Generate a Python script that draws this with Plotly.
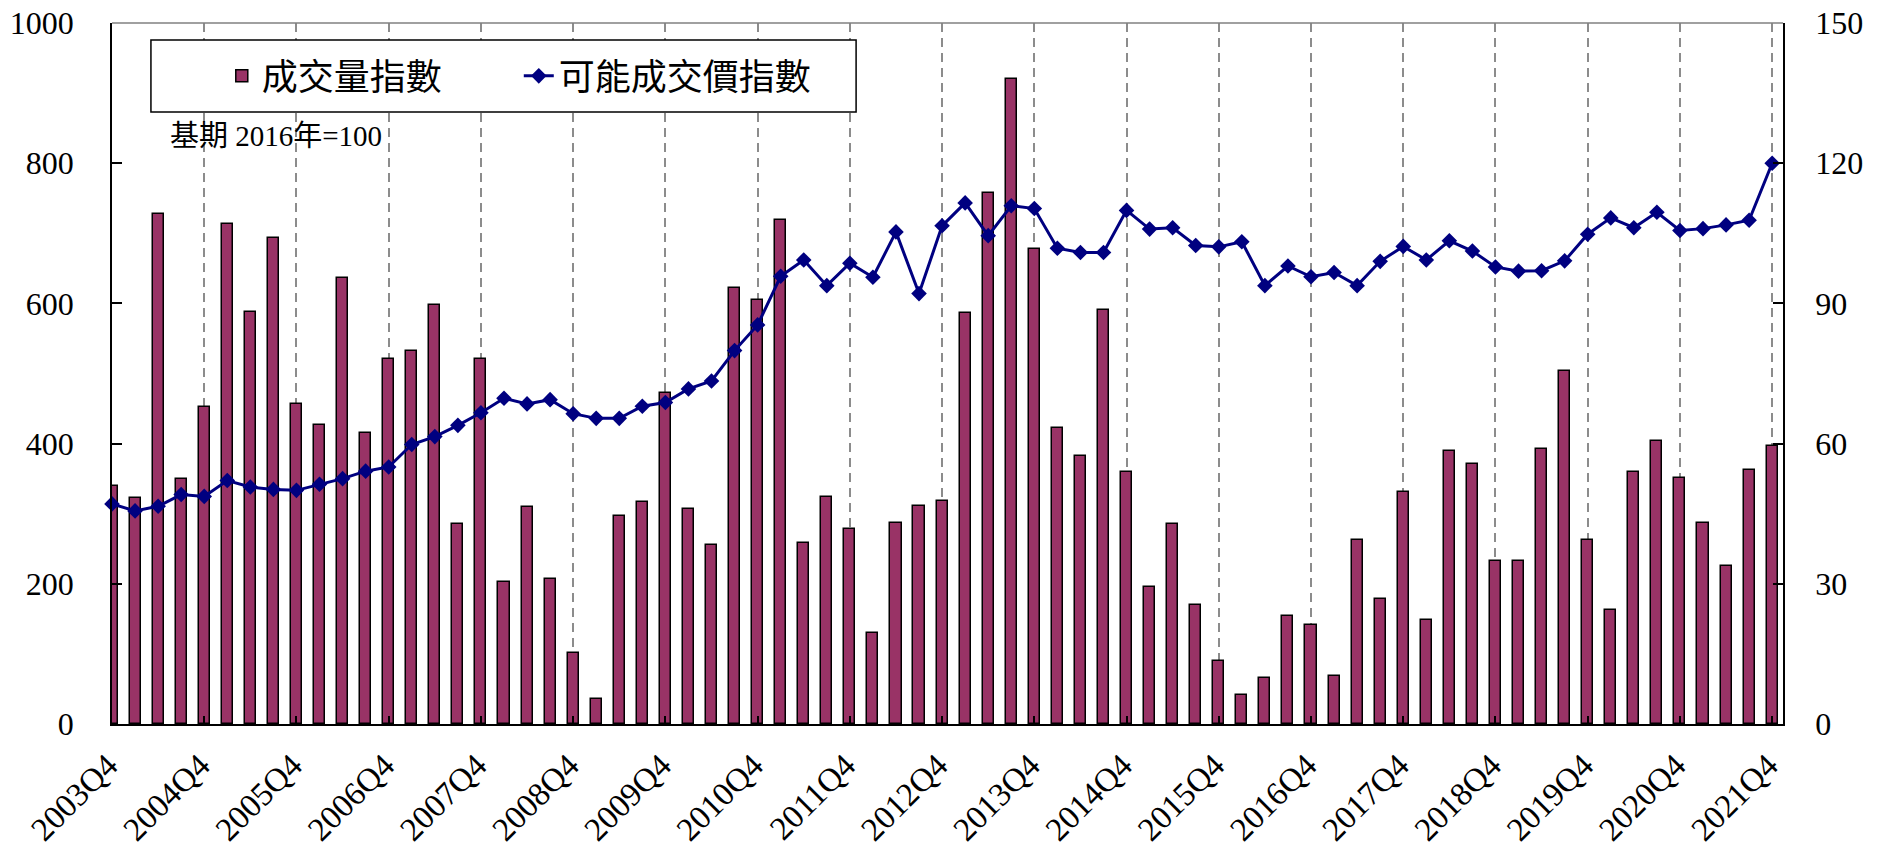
import plotly.graph_objects as go

tick_labels = ["2003Q4", "2004Q4", "2005Q4", "2006Q4", "2007Q4", "2008Q4", "2009Q4",
               "2010Q4", "2011Q4", "2012Q4", "2013Q4", "2014Q4", "2015Q4", "2016Q4",
               "2017Q4", "2018Q4", "2019Q4", "2020Q4", "2021Q4"]

volume_index = [340, 323, 727, 349, 452, 713, 588, 693, 457, 426,
                636, 415, 521, 532, 598, 286, 520, 203, 309, 207,
                101, 36, 297, 317, 472, 306, 256, 622, 605, 719,
                258, 324, 278, 130, 287, 311, 318, 587, 757, 920,
                678, 422, 382, 591, 360, 196, 286, 170, 90, 42,
                65, 154, 141, 68, 262, 178, 331, 149, 390, 371,
                232, 232, 392, 503, 263, 163, 360, 404, 351, 287,
                225, 362, 397]

price_index = [47.1, 45.6, 46.6, 49.1, 48.7, 52.1, 50.7, 50.2, 50.0, 51.3,
               52.5, 54.1, 55.0, 59.8, 61.5, 63.9, 66.6, 69.7, 68.5, 69.4,
               66.4, 65.4, 65.4, 68.0, 68.8, 71.7, 73.4, 79.9, 85.4, 95.8,
               99.3, 93.8, 98.6, 95.6, 105.3, 92.1, 106.6, 111.5, 104.5, 110.9,
               110.3, 101.8, 100.9, 100.9, 109.9, 105.9, 106.2, 102.4, 102.1, 103.2,
               93.8, 98.0, 95.7, 96.6, 93.8, 99.0, 102.2, 99.3, 103.4, 101.2,
               97.8, 96.9, 97.0, 99.1, 104.8, 108.3, 106.2, 109.5, 105.6, 106.0,
               106.8, 107.8, 120.0]

x = list(range(len(volume_index)))
tick_pos = list(range(0, len(volume_index), 4))

FONT = "'Liberation Serif', 'Noto Sans CJK TC', serif"

fig = go.Figure()
fig.add_trace(go.Bar(
    x=x, y=volume_index, name="成交量指數",
    marker=dict(color="#993366", line=dict(color="black", width=1.5)),
    width=0.48, yaxis="y",
))
fig.add_trace(go.Scatter(
    x=x, y=price_index, name="可能成交價指數", yaxis="y2",
    mode="lines+markers",
    line=dict(color="#000080", width=3),
    marker=dict(symbol="diamond", size=12, color="#000080"),
    cliponaxis=False,
))

fig.update_layout(
    width=1881, height=849,
    margin=dict(l=112, r=98, t=23, b=125, autoexpand=False),
    paper_bgcolor="white", plot_bgcolor="white",
    font=dict(family=FONT, color="black"),
    bargap=0,
    showlegend=True,
    legend=dict(
        orientation="h", x=0.0657, xanchor="left", y=0.9245, yanchor="middle",
        font=dict(family="'Noto Sans CJK TC'", size=36, color="black"),
        bgcolor="rgba(0,0,0,0)", borderwidth=0,
        entrywidth=252, entrywidthmode="pixels",
    ),
    xaxis=dict(
        range=[0, 72.47], tickvals=tick_pos, ticktext=tick_labels,
        tickangle=-45, tickfont=dict(size=33, family=FONT),
        showgrid=True, gridcolor="#8c8c8c", gridwidth=2, griddash="9px,6px",
        ticks="inside", ticklen=8, tickcolor="black", tickwidth=1.5,
        showline=True, linecolor="black", linewidth=1.5, zeroline=False,
        ticklabelstandoff=7, ticklabelshift=-4, automargin=False,
    ),
    yaxis=dict(
        range=[0, 1000], dtick=200, tickfont=dict(size=32, family=FONT),
        showgrid=False, zeroline=False, ticks="inside", ticklen=10,
        tickcolor="black", tickwidth=1.5,
        showline=True, linecolor="black", linewidth=1.5,
        ticklabelstandoff=30, automargin=False,
    ),
    yaxis2=dict(
        range=[0, 150], dtick=30, tickfont=dict(size=32, family=FONT),
        overlaying="y", side="right", showgrid=False, zeroline=False,
        ticks="inside", ticklen=10, tickcolor="black", tickwidth=1.5,
        showline=True, linecolor="black", linewidth=1.5,
        ticklabelstandoff=24, automargin=False,
    ),
    shapes=[
        dict(type="line", xref="paper", yref="paper", x0=0, x1=1, y0=1, y1=1,
             line=dict(color="#808080", width=1.5)),
        dict(type="rect", xref="paper", yref="paper", x0=0.0233, x1=0.4453,
             y0=0.8732, y1=0.9758, fillcolor="white",
             line=dict(color="black", width=1.5), layer="above"),
    ],
    annotations=[
        dict(text="基期 2016年=100", xref="paper", yref="paper",
             x=0.0335, y=0.839, xanchor="left", yanchor="middle",
             showarrow=False, font=dict(family=FONT, size=29, color="black")),
    ],
)

fig.write_html(
    "out.html",
    config={"displayModeBar": False},
    post_script="document.body.style.margin='0px';document.body.style.overflow='hidden';",
)
